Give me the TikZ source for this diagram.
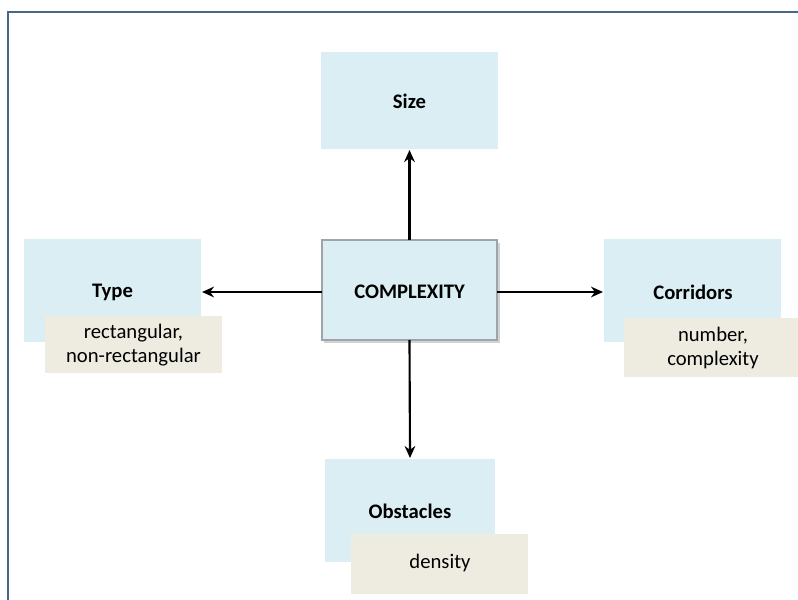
\documentclass[tikz,border=0pt]{standalone}
\usepackage{fontspec}
\setmainfont{Carlito}
\usetikzlibrary{arrows.meta}
\definecolor{lblue}{HTML}{DAEEF3}
\definecolor{beige}{HTML}{EEECE1}
\definecolor{framec}{HTML}{4A6585}
\definecolor{cborder}{HTML}{9DA5AA}
\begin{document}
\begin{tikzpicture}[x=0.75pt,y=-0.75pt,
  title/.style={font=\bfseries\fontsize{15.5}{18}\selectfont},
  subbox/.style={font=\fontsize{15.5}{18.5}\selectfont,align=center},
  conn/.style={-{Stealth[length=9pt,width=8pt]},line width=1.6pt,black}]
\useasboundingbox (0,0) rectangle (798,599);
\draw[framec,line width=2.2pt] (8,610) -- (8,12) -- (810,12);
% boxes
\fill[lblue] (321,52) rectangle (498,149);
\node[title] (size) at (409.5,101) {Size};
\coordinate (sizeb) at (409.5,150);
\fill[gray!35] (324,243) rectangle (500,343);
\draw[fill=lblue,draw=cborder,line width=1pt] (322,240) rectangle (497,340);
\node[title] (cx) at (409.5,292) {COMPLEXITY};
\coordinate (cxt) at (409.5,240);
\coordinate (cxb) at (409.5,340);
\coordinate (cxl) at (322,292);
\coordinate (cxr) at (497,292);
\fill[lblue] (24,239) rectangle (201,342);
\node[title] (type) at (112.5,292) {Type};
\coordinate (typer) at (202,292);
\fill[beige] (45,316) rectangle (222,373);
\node[subbox] (typesub) at (133.5,345) {rectangular,\\non-rectangular};
\fill[lblue] (604,239) rectangle (781,342);
\node[title] (cor) at (693,292) {Corridors};
\coordinate (corl) at (603,292);
\fill[beige] (624,318) rectangle (800,377);
\node[subbox] (corsub) at (713,348) {number,\\complexity};
\fill[lblue] (325,459) rectangle (495,562);
\node[title] (obs) at (410,511) {Obstacles};
\coordinate (obst) at (410,458);
\fill[beige] (351,534) rectangle (528,594);
\node[subbox] (obssub) at (440,563) {density};
% connectors
\draw[conn] (cxt) -- (sizeb);
\draw[conn] (cxl) -- (typer);
\draw[conn] (cxr) -- (corl);
\draw[conn] (cxb) -- (obst);
\end{tikzpicture}
\end{document}
